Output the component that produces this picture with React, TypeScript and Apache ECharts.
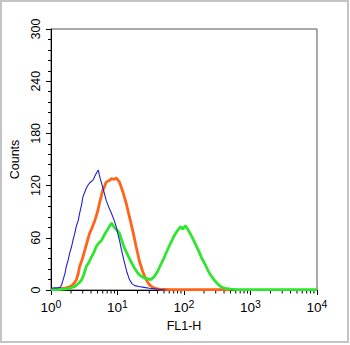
import React, { useEffect, useRef } from "react";
import * as echarts from "echarts";

// x = log10(FL1-H), y = counts
const blueData: [number, number][] = [
  [0, 2], [0.05, 2.5], [0.1, 2.5], [0.14, 3], [0.16, 6], [0.18, 11], [0.21, 19], [0.23, 27],
  [0.26, 35], [0.28, 42], [0.31, 50], [0.33, 57], [0.36, 66], [0.38, 73], [0.41, 80],
  [0.43, 88], [0.46, 98], [0.48, 107], [0.51, 113], [0.53, 117], [0.56, 121], [0.58, 123],
  [0.61, 125], [0.63, 126], [0.66, 131], [0.68, 134], [0.71, 138], [0.74, 128], [0.76, 123],
  [0.8, 112], [0.83, 103], [0.87, 95], [0.91, 88], [0.95, 80], [0.98, 73], [1.01, 63],
  [1.03, 57], [1.06, 46], [1.1, 33], [1.14, 21], [1.18, 12], [1.22, 7], [1.26, 5], [1.32, 4],
  [1.4, 3], [1.48, 2], [1.56, 1.5], [1.64, 0.5], [1.72, 0],
];

const orangeData: [number, number][] = [
  [0, 0.5], [0.1, 1], [0.21, 2], [0.31, 4.6], [0.35, 8], [0.38, 11.5], [0.41, 19], [0.43, 27],
  [0.46, 33], [0.48, 38], [0.51, 46], [0.55, 57], [0.58, 65], [0.63, 74], [0.66, 80],
  [0.7, 90], [0.73, 100], [0.76, 109], [0.78, 115], [0.81, 120], [0.83, 124], [0.88, 126],
  [0.91, 128], [0.95, 127], [0.98, 129], [1.03, 124], [1.08, 113], [1.13, 100], [1.18, 84],
  [1.23, 68], [1.28, 50], [1.33, 33], [1.38, 21], [1.43, 12], [1.48, 6], [1.53, 3],
  [1.58, 1.5], [1.63, 1], [1.8, 0.5], [2.2, 0.5], [2.6, 0.5], [2.7, 0],
];

const greenData: [number, number][] = [
  [0, 0.5], [0.1, 0.5], [0.2, 1], [0.28, 2], [0.36, 4], [0.42, 8], [0.46, 11.5], [0.5, 19],
  [0.53, 27], [0.57, 32], [0.61, 38], [0.65, 44], [0.68, 50], [0.72, 54], [0.76, 57],
  [0.8, 63], [0.83, 67], [0.87, 72], [0.91, 77], [0.95, 72], [1.0, 68], [1.03, 65],
  [1.06, 58], [1.1, 49], [1.15, 41], [1.2, 33], [1.25, 26], [1.3, 20], [1.35, 16], [1.4, 14],
  [1.45, 13], [1.5, 12], [1.55, 15], [1.6, 21], [1.65, 29], [1.7, 37], [1.75, 46], [1.8, 54],
  [1.85, 62], [1.9, 68], [1.95, 73], [1.98, 70], [2.02, 74], [2.07, 68], [2.12, 61],
  [2.17, 53], [2.22, 45], [2.27, 36], [2.32, 29], [2.37, 21], [2.42, 15], [2.47, 10],
  [2.52, 6], [2.57, 3], [2.62, 2], [2.7, 1], [2.8, 0.5], [3.5, 0.5], [4, 0.5],
];

const decades = [0, 1, 2, 3, 4];
const yMax = 300;
const yInterval = 60;

const minorX: [number, number][] = [];
for (const d of decades.slice(0, 4)) {
  for (let k = 2; k <= 9; k++) minorX.push([d + Math.log10(k), 0]);
}

const FONT = "'Liberation Sans', Arial, Helvetica, sans-serif";

export default function App() {
  const ref = useRef<HTMLDivElement>(null);
  useEffect(() => {
    if (!ref.current) return;
    const chart = echarts.init(ref.current, null, { renderer: "svg" });
    chart.setOption({
      animation: false,
      backgroundColor: "#fff",
      textStyle: { fontFamily: FONT },
      graphic: [
        {
          type: "rect",
          shape: { x: 1, y: 1, width: 347, height: 341 },
          style: { fill: "none", stroke: "#c4c4c4", lineWidth: 2 },
          z: 100,
        },
      ],
      grid: {
        left: 51,
        right: 33,
        top: 29,
        bottom: 55,
        show: true,
        borderColor: "#555",
        borderWidth: 1,
      },
      xAxis: {
        type: "value",
        min: 0,
        max: 4,
        interval: 1,
        name: "FL1-H",
        nameLocation: "middle",
        nameGap: 26,
        nameTextStyle: { fontSize: 12.5, color: "#000", fontFamily: FONT },
        axisLine: { show: true, lineStyle: { color: "#000", width: 1 } },
        axisTick: { show: true, length: 5, lineStyle: { color: "#000" } },
        splitLine: { show: false },
        axisLabel: {
          margin: 8,
          formatter: (v: number) => `{b|10}{s|${v}}`,
          rich: {
            b: { fontSize: 13.5, color: "#000", fontFamily: FONT },
            s: { fontSize: 10.5, color: "#000", fontFamily: FONT, padding: [0, 0, 8, 0] },
          },
        },
      },
      yAxis: {
        type: "value",
        min: 0,
        max: yMax,
        interval: yInterval,
        name: "Counts",
        nameLocation: "middle",
        nameRotate: 90,
        nameGap: 30,
        nameTextStyle: { fontSize: 12.5, color: "#000", fontFamily: FONT },
        axisLine: { show: true, lineStyle: { color: "#000", width: 1 } },
        axisTick: { show: true, length: 5, lineStyle: { color: "#000" } },
        minorTick: { show: true, splitNumber: 5, length: 3, lineStyle: { color: "#000" } },
        splitLine: { show: false },
        axisLabel: { rotate: 90, fontSize: 12.5, color: "#000", margin: 9, fontFamily: FONT },
      },
      series: [
        {
          type: "custom",
          silent: true,
          clip: false,
          data: minorX,
          encode: { x: 0, y: 1 },
          renderItem: (_p: any, api: any) => {
            const pt = api.coord([api.value(0), 0]);
            return {
              type: "line",
              shape: { x1: pt[0], y1: pt[1], x2: pt[0], y2: pt[1] + 3.5 },
              style: { stroke: "#000", lineWidth: 1 },
            };
          },
          z: 1,
        },
        {
          type: "line",
          data: orangeData,
          showSymbol: false,
          lineStyle: { color: "#ff6419", width: 2.8 },
          itemStyle: { color: "#ff6419" },
          z: 3,
        },
        {
          type: "line",
          data: greenData,
          showSymbol: false,
          lineStyle: { color: "#2ee62e", width: 2.8 },
          itemStyle: { color: "#2ee62e" },
          z: 4,
        },
        {
          type: "line",
          data: blueData,
          showSymbol: false,
          lineStyle: { color: "#2020cc", width: 1.1 },
          itemStyle: { color: "#2020cc" },
          z: 5,
        },
      ],
    });
    return () => chart.dispose();
  }, []);
  return (
    <div
      ref={ref}
      style={{ position: "absolute", left: 0, top: 0, width: 350, height: 345, background: "#fff" }}
    />
  );
}
